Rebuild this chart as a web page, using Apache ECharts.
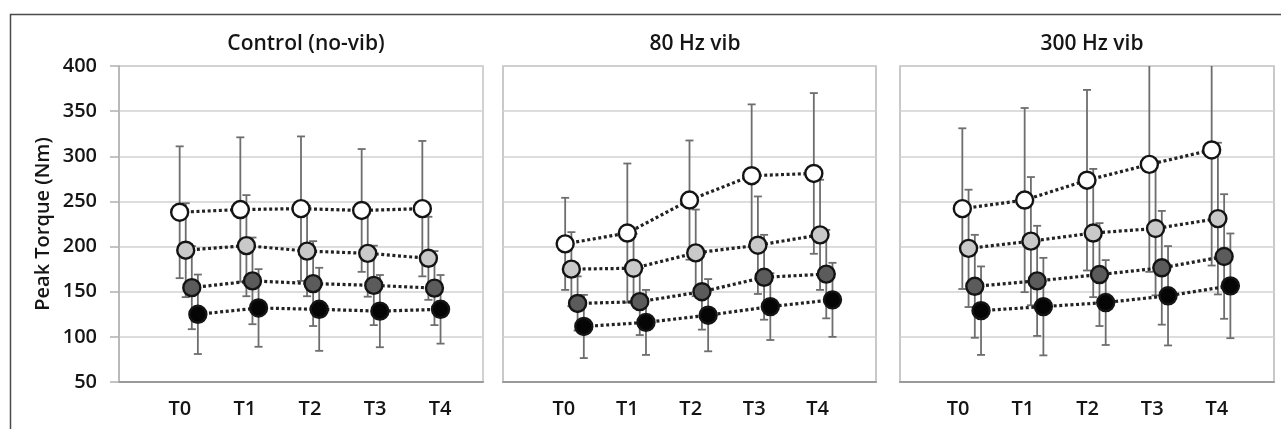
<!DOCTYPE html>
<html>
<head>
<meta charset="utf-8">
<script src="https://cdn.jsdelivr.net/npm/echarts@6/dist/echarts.min.js"></script>
<style>
html,body{margin:0;padding:0;background:#fff;}
#chart{width:1281px;height:429px;}
</style>
</head>
<body>
<div id="chart"></div>
<script>
// ---- data ----
const timepoints = ['T0', 'T1', 'T2', 'T3', 'T4'];
const panelTitles = ['Control (no-vib)', '80 Hz vib', '300 Hz vib'];
const yTicks = [50, 100, 150, 200, 250, 300, 350, 400];

// Control (no-vib)
const ctrlWhite = [238, 241, 242, 240, 242];
const ctrlWhiteSD = [73, 80, 80, 68, 75];
const ctrlLight = [196, 201, 195, 192.5, 187];
const ctrlLightSD = [52, 56, 50, 48, 46];
const ctrlDark = [154.5, 162, 159, 157, 154];
const ctrlDarkSD = [46, 48, 47, 44, 41];
const ctrlBlack = [125, 132, 130.5, 128.5, 130.5];
const ctrlBlackSD = [44, 43, 46, 40, 38];

// 80 Hz vib
const vib80White = [203, 215, 251.5, 278.5, 281];
const vib80WhiteSD = [51, 77, 66, 79, 89];
const vib80Light = [175, 176, 193, 201.5, 213];
const vib80LightSD = [41, 38, 48, 54, 61];
const vib80Dark = [137, 139, 150, 166, 169.5];
const vib80DarkSD = [30, 37, 42, 47, 49];
const vib80Black = [111.5, 116, 124, 133.5, 141];
const vib80BlackSD = [35, 36, 40, 37, 41];

// 300 Hz vib
const vib300White = [242, 251.5, 273.5, 291, 307];
const vib300WhiteSD = [89, 102, 100, 119, 128];
const vib300Light = [198, 206, 215, 220, 231];
const vib300LightSD = [65, 71, 71, 74, 84];
const vib300Dark = [156, 162, 169, 176.5, 189];
const vib300DarkSD = [57, 61, 57, 63, 69];
const vib300Black = [129, 133.5, 138, 145.5, 156.5];
const vib300BlackSD = [49, 54, 47, 55, 58];

// ---- build ----
const panelData = [
  [[ctrlWhite, ctrlWhiteSD], [ctrlLight, ctrlLightSD], [ctrlDark, ctrlDarkSD], [ctrlBlack, ctrlBlackSD]],
  [[vib80White, vib80WhiteSD], [vib80Light, vib80LightSD], [vib80Dark, vib80DarkSD], [vib80Black, vib80BlackSD]],
  [[vib300White, vib300WhiteSD], [vib300Light, vib300LightSD], [vib300Dark, vib300DarkSD], [vib300Black, vib300BlackSD]]
];
const seriesFill = ['#ffffff', '#c9c9c9', '#5b5b5b', '#050505'];
const seriesNames = ['Group 1', 'Group 2', 'Group 3', 'Group 4'];
const seriesOffset = 0.1; // horizontal stagger between groups (axis units)

const FONT = 'Open Sans';
const TXT = '#151515';
const FW = 600;
const gridsPx = [
  {left: 119, right: 1281 - 483},
  {left: 503, right: 1281 - 876},
  {left: 900, right: 1281 - 1274}
];
// secondary label-axis ranges (layout only)
const labelAxisRange = [[-0.934, 4.658], [-0.958, 4.919], [-0.898, 4.882]];
const titleCenters = [301, 690, 1087];

const grid = [], xAxis = [], yAxis = [], series = [], title = [];

gridsPx.forEach((g, p) => {
  grid.push({
    left: g.left, right: g.right, top: 66, bottom: 47,
    show: true, borderColor: p === 0 ? '#c4c4c4' : '#b8b8b8', borderWidth: 1.5,
    backgroundColor: 'transparent'
  });
  title.push({
    text: panelTitles[p], left: titleCenters[p], top: 29, textAlign: 'center',
    textStyle: {fontFamily: FONT, fontSize: 21, fontWeight: FW, color: TXT}
  });
  xAxis.push({
    type: 'value', gridIndex: p, min: 0, max: 6, interval: 1,
    axisLine: {show: true, onZero: false, lineStyle: {color: '#9a9a9a', width: 2}},
    axisTick: {show: false}, axisLabel: {show: false}, splitLine: {show: false}
  });
  yAxis.push({
    type: 'value', gridIndex: p, min: 50, max: 400, interval: 50,
    axisLine: {show: p === 0, lineStyle: {color: '#b0b0b0', width: 1.5}},
    axisTick: {show: p === 0, length: 9, lineStyle: {color: '#b0b0b0', width: 1.5}},
    axisLabel: {
      show: p === 0, margin: 22, fontFamily: FONT, fontSize: 20, fontWeight: FW, color: TXT,
      customValues: yTicks
    },
    splitLine: {show: true, lineStyle: {color: '#d2d2d2', width: 1.5}},
    name: p === 0 ? 'Peak Torque (Nm)' : '',
    nameLocation: 'middle', nameRotate: 90, nameGap: 66,
    nameTextStyle: {fontFamily: FONT, fontSize: 20, fontWeight: FW, color: TXT}
  });
});
gridsPx.forEach((g, p) => {
  xAxis.push({
    type: 'value', gridIndex: p, min: labelAxisRange[p][0], max: labelAxisRange[p][1],
    position: 'bottom',
    axisLine: {show: false}, axisTick: {show: false}, splitLine: {show: false},
    axisLabel: {
      show: true, margin: 17, fontFamily: FONT, fontSize: 20, fontWeight: FW, color: TXT,
      customValues: timepoints.map((t, i) => i),
      formatter: v => timepoints[Math.round(v)]
    }
  });
});

function errorRender(params, api) {
  const x = api.value(0), lo = api.value(1), hi = api.value(2);
  const pLo = api.coord([x, lo]);
  const pHi = api.coord([x, hi]);
  const w = 4;
  const st = {stroke: '#6e6e6e', lineWidth: 1.8};
  return {
    type: 'group',
    children: [
      {type: 'line', shape: {x1: pLo[0], y1: pLo[1], x2: pHi[0], y2: pHi[1]}, style: st},
      {type: 'line', shape: {x1: pHi[0] - w, y1: pHi[1], x2: pHi[0] + w, y2: pHi[1]}, style: st},
      {type: 'line', shape: {x1: pLo[0] - w, y1: pLo[1], x2: pLo[0] + w, y2: pLo[1]}, style: st}
    ]
  };
}

panelData.forEach((groups, p) => {
  groups.forEach(([means, sds], s) => {
    const xs = means.map((m, i) => i + 1 + s * seriesOffset);
    series.push({
      type: 'custom', name: seriesNames[s] + ' SD', xAxisIndex: p, yAxisIndex: p,
      renderItem: errorRender, clip: true, z: 1,
      encode: {x: 0, y: [1, 2]},
      data: means.map((m, i) => [xs[i], m - sds[i], m + sds[i]])
    });
  });
});
panelData.forEach((groups, p) => {
  groups.forEach(([means], s) => {
    series.push({
      type: 'line', name: seriesNames[s], xAxisIndex: p, yAxisIndex: p, z: 3,
      data: means.map((m, i) => [i + 1 + s * seriesOffset, m]),
      symbol: 'circle', symbolSize: 17,
      itemStyle: {color: seriesFill[s], borderColor: '#141414', borderWidth: 2.4},
      lineStyle: {color: '#222222', width: 3.2, type: [3, 2.6]},
      emphasis: {disabled: true}
    });
  });
});

const chart = echarts.init(document.getElementById('chart'), null, {renderer: 'canvas'});
chart.setOption({
  animation: false,
  backgroundColor: '#ffffff',
  title, grid, xAxis, yAxis, series,
  graphic: [{
    type: 'rect', left: 8, top: 12, z: -10,
    shape: {x: 0, y: 0, width: 1300, height: 440},
    style: {fill: 'none', stroke: '#4a4a4a', lineWidth: 1.5}
  }]
});
</script>
</body>
</html>
